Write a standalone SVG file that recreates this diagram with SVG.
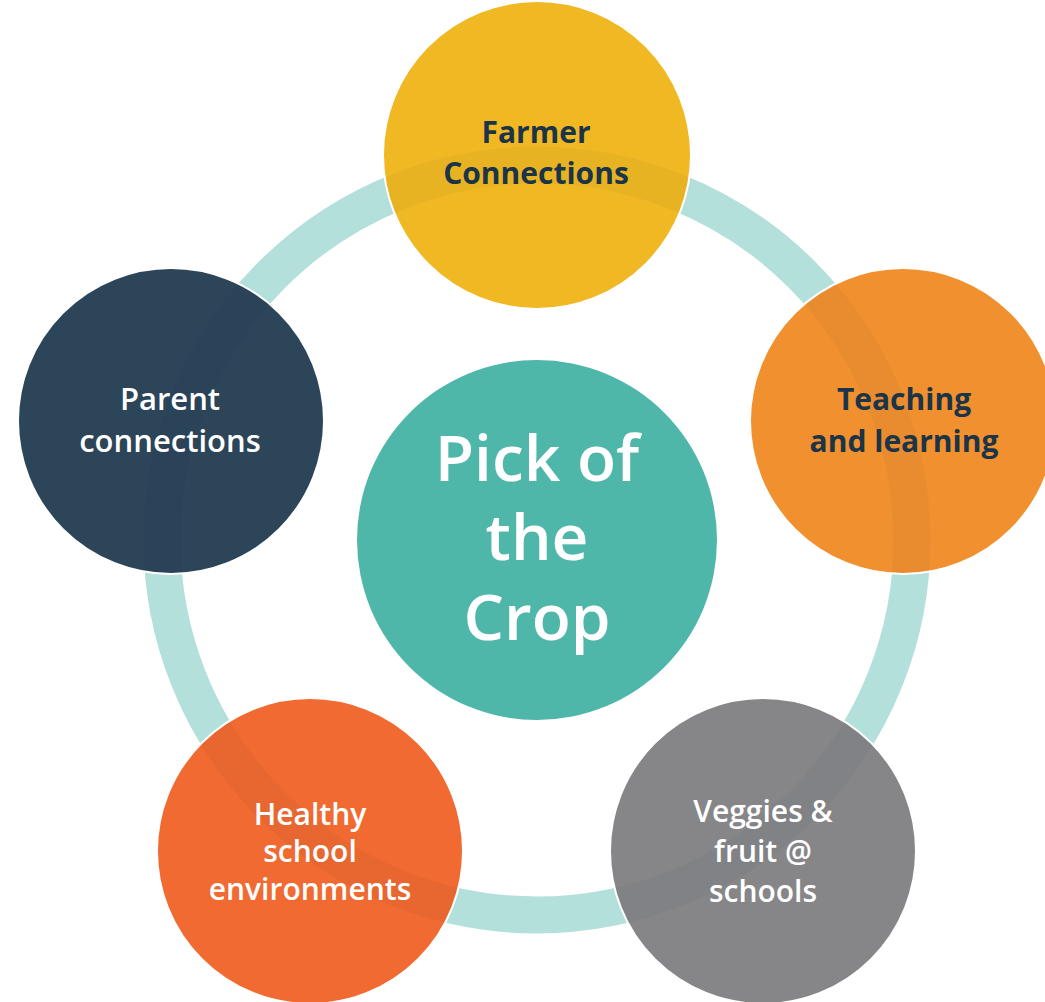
<svg xmlns="http://www.w3.org/2000/svg" width="1045" height="1002" viewBox="0 0 1045 1002">
<style>
.node{stroke:#ffffff;stroke-width:2}
.lbl{font-family:"Open Sans","Liberation Sans",sans-serif;font-weight:600;font-size:31px;text-anchor:middle}
.dark{fill:#1B3447;font-weight:700;font-size:30px}
.light{fill:#ffffff}
.sm{font-size:30px}
.big{font-family:"Open Sans","Liberation Sans",sans-serif;font-weight:600;font-size:64px;text-anchor:middle;fill:#ffffff}
</style>
<defs>
<clipPath id="outer">
<circle cx="537" cy="155" r="153"/>
<circle cx="903" cy="421" r="152"/>
<circle cx="763" cy="851" r="152"/>
<circle cx="310" cy="851" r="152"/>
<circle cx="171" cy="421" r="152"/>
</clipPath>
</defs>
<rect width="1045" height="1002" fill="#ffffff"/>
<g id="connectors">
<circle cx="537" cy="540" r="375" fill="none" stroke="#B3E0DB" stroke-width="37"/>
</g>
<g id="center">
<circle cx="537" cy="540" r="180" fill="#4FB7AA"/>
<text class="big" x="537" y="481">Pick of</text>
<text class="big" x="537" y="560">the</text>
<text class="big" x="537" y="640">Crop</text>
</g>
<g id="farmer">
<circle class="node" cx="537" cy="155" r="154" fill="#F0B823"/>
</g>
<g id="teaching">
<circle class="node" cx="903" cy="421" r="153" fill="#F0902F"/>
</g>
<g id="veggies">
<circle class="node" cx="763" cy="851" r="153" fill="#868688"/>
</g>
<g id="healthy">
<circle class="node" cx="310" cy="851" r="153" fill="#F06A31"/>
</g>
<g id="parent">
<circle class="node" cx="171" cy="421" r="153" fill="#2C4559"/>
</g>
<g id="ring-shade" clip-path="url(#outer)">
<circle cx="537" cy="540" r="375" fill="none" stroke="#0A2A3A" stroke-opacity="0.03" stroke-width="37"/>
</g>
<g id="labels">
<text class="lbl dark" x="536" y="143">Farmer</text>
<text class="lbl dark" x="536" y="184">Connections</text>
<text class="lbl dark" x="904" y="410">Teaching</text>
<text class="lbl dark" x="904" y="452">and learning</text>
<text class="lbl light sm" x="763" y="822">Veggies &amp;</text>
<text class="lbl light sm" x="763" y="862">fruit @</text>
<text class="lbl light sm" x="763" y="902">schools</text>
<text class="lbl light sm" x="310" y="825">Healthy</text>
<text class="lbl light sm" x="310" y="862">school</text>
<text class="lbl light sm" x="310" y="900">environments</text>
<text class="lbl light" x="170" y="410">Parent</text>
<text class="lbl light" x="170" y="452">connections</text>
</g>
</svg>
